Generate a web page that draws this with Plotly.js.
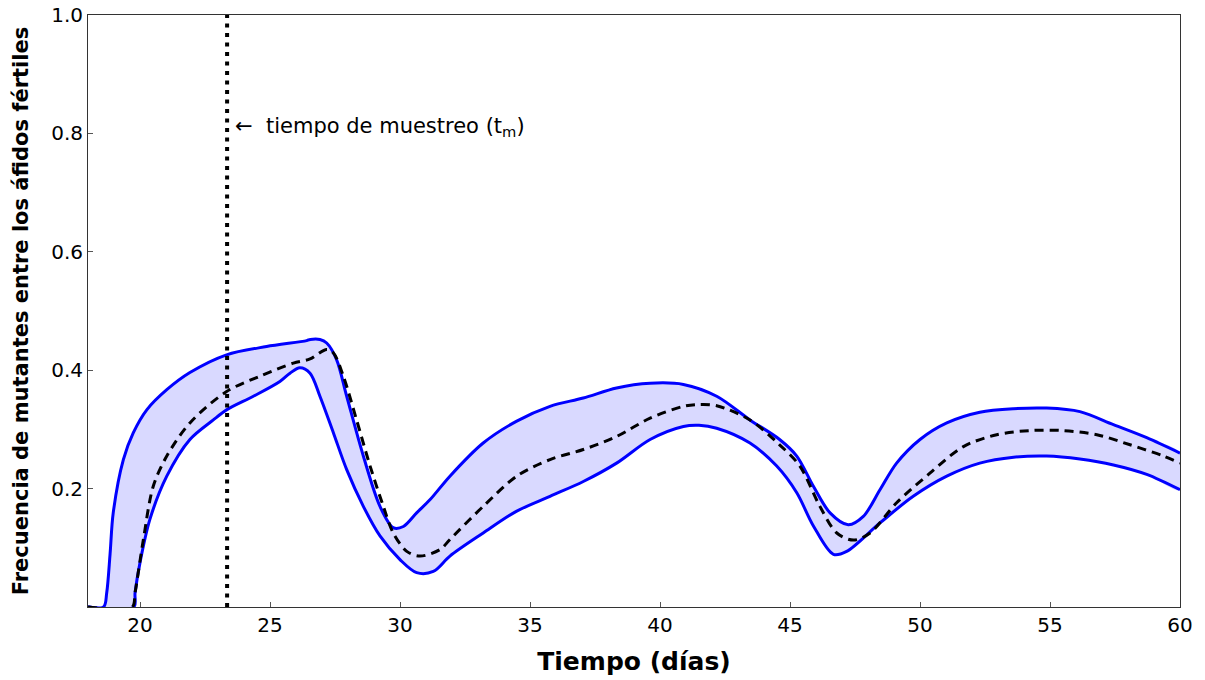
<!DOCTYPE html>
<html>
<head>
<meta charset="utf-8">
<script src="https://cdn.plot.ly/plotly-3.0.1.min.js"></script>
<style>
  html, body { margin: 0; padding: 0; background: #fff; }
  #chart { width: 1205px; height: 680px; }
</style>
</head>
<body>
<div id="chart"></div>
<script>
// Upper bound of the mutant frequency band
const upperX = [18, 18.6, 18.72, 18.85, 18.97, 19.36, 19.74, 20.26, 21.03, 21.92, 23.33, 24.87, 26.41, 26.55, 26.92, 27.18, 27.56, 27.95, 28.59, 29.23, 29.74, 30.13, 30.64, 31.15, 31.92, 33.2, 34.49, 35.77, 37.05, 38.33, 39.62, 40.9, 42.18, 43.46, 44.6, 45.26, 45.9, 46.54, 47.24, 47.82, 48.46, 49.1, 50, 51.03, 52.3, 53.6, 54.87, 56.15, 57.44, 58.72, 60];
const upperY = [0, 0, 0.024, 0.09, 0.159, 0.249, 0.294, 0.333, 0.367, 0.396, 0.426, 0.440, 0.450, 0.452, 0.452, 0.446, 0.418, 0.356, 0.255, 0.170, 0.134, 0.136, 0.159, 0.181, 0.221, 0.277, 0.314, 0.339, 0.353, 0.370, 0.378, 0.376, 0.356, 0.316, 0.283, 0.255, 0.204, 0.159, 0.139, 0.153, 0.198, 0.243, 0.283, 0.311, 0.329, 0.335, 0.336, 0.330, 0.308, 0.286, 0.260];

// Lower bound of the band
const lowerX = [18, 19.76, 19.81, 20.0, 20.38, 21.03, 21.92, 22.82, 23.33, 24.36, 25.38, 25.77, 26.15, 26.54, 26.92, 27.44, 27.95, 28.59, 29.23, 30.0, 30.64, 31.28, 31.92, 33.2, 34.49, 35.77, 37.05, 38.33, 39.62, 40.9, 41.5, 42.18, 43.46, 44.49, 45.26, 45.9, 46.67, 47.18, 48.46, 49.74, 51.03, 52.3, 53.6, 54.87, 56.15, 57.44, 58.72, 60];
const lowerY = [0, 0, 0.024, 0.075, 0.148, 0.221, 0.283, 0.316, 0.333, 0.356, 0.381, 0.395, 0.404, 0.395, 0.356, 0.294, 0.232, 0.170, 0.120, 0.080, 0.058, 0.060, 0.086, 0.125, 0.162, 0.187, 0.212, 0.243, 0.283, 0.305, 0.307, 0.302, 0.277, 0.238, 0.193, 0.137, 0.089, 0.094, 0.142, 0.187, 0.221, 0.243, 0.253, 0.255, 0.250, 0.240, 0.224, 0.198];

// Mean frequency (dashed)
const meanX = [18, 19.7, 19.81, 20.13, 20.51, 21.03, 21.92, 23.33, 24.62, 25.9, 26.54, 27.18, 27.44, 27.82, 28.33, 28.85, 29.36, 29.74, 30.26, 30.77, 31.54, 31.92, 33.2, 34.49, 35.77, 37.05, 38.33, 39.62, 40.9, 41.5, 42.18, 43.46, 44.6, 45.38, 46.15, 46.8, 47.44, 48.08, 49.1, 50.38, 51.67, 52.95, 54.23, 55.5, 56.8, 58.08, 59.36, 60];
const meanY = [0, 0, 0.024, 0.114, 0.204, 0.255, 0.311, 0.364, 0.390, 0.412, 0.419, 0.435, 0.429, 0.390, 0.316, 0.238, 0.170, 0.125, 0.094, 0.086, 0.097, 0.114, 0.170, 0.221, 0.249, 0.266, 0.288, 0.319, 0.339, 0.342, 0.340, 0.316, 0.274, 0.238, 0.170, 0.125, 0.113, 0.125, 0.176, 0.226, 0.271, 0.291, 0.298, 0.298, 0.291, 0.274, 0.255, 0.243];

// Sampling time
const tSample = 23.35;

const xTicks = [20, 25, 30, 35, 40, 45, 50, 55, 60];
const yTicks = [0.2, 0.4, 0.6, 0.8, 1.0];
const yTickText = ['0.2', '0.4', '0.6', '0.8', '1.0'];

const FONT = 'DejaVu Sans, sans-serif';
const SMOOTH = 0.9;

const bandX = upperX.concat(lowerX.slice().reverse());
const bandY = upperY.concat(lowerY.slice().reverse());

const traces = [
  {
    x: bandX, y: bandY, type: 'scatter', mode: 'lines',
    fill: 'toself', fillcolor: 'rgba(0,0,255,0.15)',
    line: { width: 0, shape: 'spline', smoothing: SMOOTH },
    hoverinfo: 'skip', showlegend: false
  },
  {
    x: upperX, y: upperY, type: 'scatter', mode: 'lines',
    line: { color: '#0000ff', width: 3, shape: 'spline', smoothing: SMOOTH },
    showlegend: false
  },
  {
    x: lowerX, y: lowerY, type: 'scatter', mode: 'lines',
    line: { color: '#0000ff', width: 3, shape: 'spline', smoothing: SMOOTH },
    showlegend: false
  },
  {
    x: meanX, y: meanY, type: 'scatter', mode: 'lines',
    line: { color: '#000000', width: 3, dash: '9px,6px', shape: 'spline', smoothing: SMOOTH },
    showlegend: false
  },
  {
    x: [tSample, tSample], y: [0, 1], type: 'scatter', mode: 'lines',
    line: { color: '#000000', width: 4, dash: '4px,5.5px' },
    showlegend: false
  }
];

const layout = {
  width: 1205, height: 680,
  margin: { l: 88, r: 25, t: 15, b: 73 },
  paper_bgcolor: '#ffffff', plot_bgcolor: '#ffffff',
  font: { family: FONT, color: '#000000', size: 20 },
  showlegend: false,
  xaxis: {
    range: [18, 60], tickvals: xTicks,
    ticks: 'inside', ticklen: 5, tickcolor: '#555', tickwidth: 1,
    showline: true, linecolor: '#333', linewidth: 1, mirror: true,
    showgrid: false, zeroline: false,
    tickfont: { family: FONT, size: 20, color: '#000' },
    title: { text: '<b>Tiempo (días)</b>', font: { family: FONT, size: 25, color: '#000' }, standoff: 16 }
  },
  yaxis: {
    range: [0, 1], tickvals: yTicks, ticktext: yTickText,
    ticks: 'inside', ticklen: 5, tickcolor: '#555', tickwidth: 1,
    showline: true, linecolor: '#333', linewidth: 1, mirror: true,
    showgrid: false, zeroline: false,
    tickfont: { family: FONT, size: 20, color: '#000' },
    title: { text: '<b>Frecuencia de mutantes entre los áfidos fértiles</b>', font: { family: FONT, size: 21, color: '#000' }, standoff: 16 }
  },
  annotations: [
    {
      x: tSample, y: 0.81, xref: 'x', yref: 'y',
      xanchor: 'left', yanchor: 'middle', xshift: 6,
      text: '←  tiempo de muestreo (t<sub>m</sub>)',
      showarrow: false,
      font: { family: FONT, size: 21, color: '#000' }
    }
  ]
};

Plotly.newPlot('chart', traces, layout, { displayModeBar: false, staticPlot: true });
</script>
</body>
</html>
